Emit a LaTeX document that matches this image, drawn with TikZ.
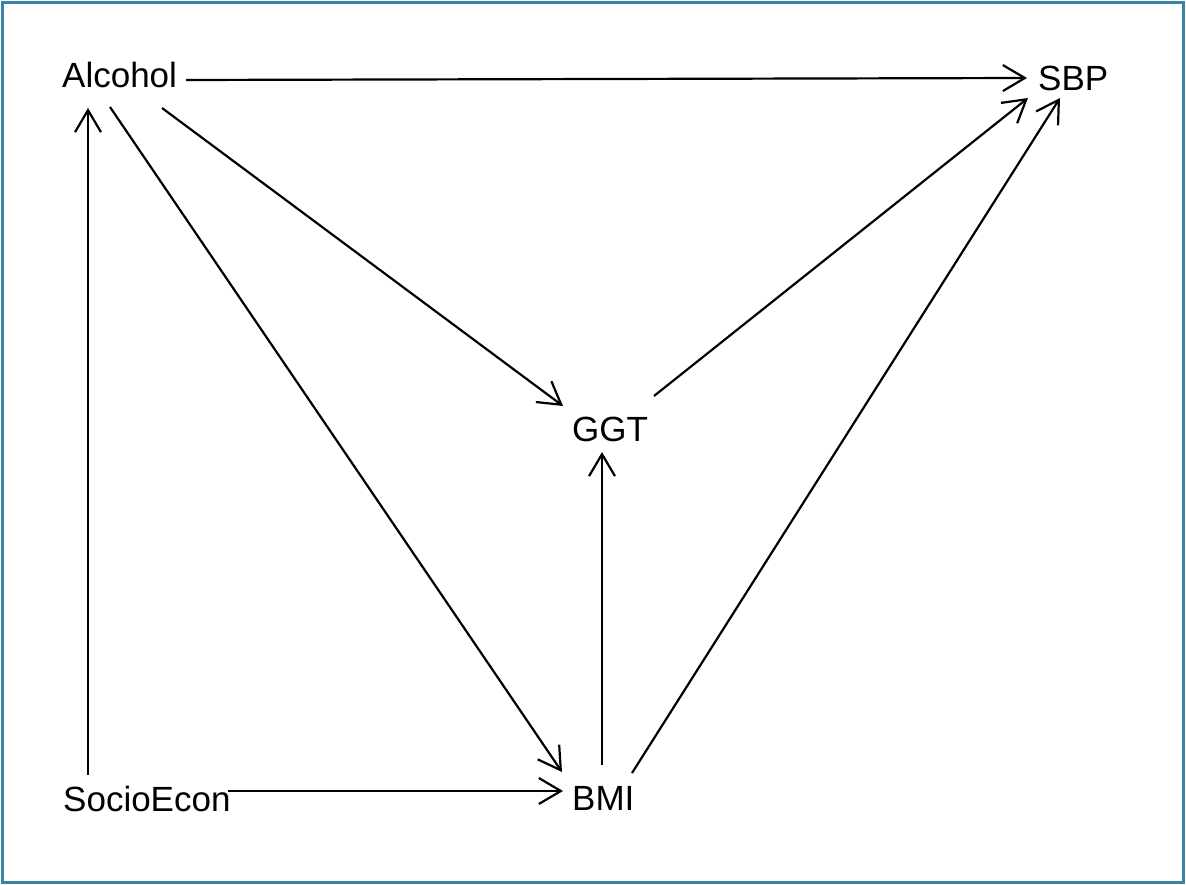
\documentclass[tikz,border=0pt]{standalone}
\usepackage{fontspec}
\setmainfont{Liberation Sans}
\usetikzlibrary{arrows.meta,calc}
\definecolor{framecol}{HTML}{3A85A6}
\tikzset{
  lbl/.style={anchor=base west, inner sep=0pt, font=\fontsize{35}{40}\selectfont},
  arr/.style={line width=2.2pt, -{Straight Barb[length=22pt,width=26pt,line width=2.2pt]}}
}
\begin{document}
\begin{tikzpicture}[x=1pt,y=-1pt]
\useasboundingbox (0,0) rectangle (1186,885);
\draw[framecol, line width=3pt] (2.5,2.5) rectangle (1183.5,882.5);
\node[lbl] (alc) at (62,88) {Alcohol};
\node[lbl] (sbp) at (1038,91) {SBP};
\node[lbl] (ggt) at (572,441) {GGT};
\node[lbl] (soc) at (63,811) {SocioEcon};
\node[lbl] (bmi) at (572,810) {BMI};
% edges
\draw[arr] ($(alc.base west)+(124,-8)$) -- ($(sbp.base west)+(-11,-13)$);
\draw[arr] ($(alc.base west)+(100,20)$) -- ($(ggt.base west)+(-9,-35)$);
\draw[arr] ($(alc.base west)+(48,19)$) -- ($(bmi.base west)+(-10,-38)$);
\draw[arr] ($(soc.base west)+(25,-36)$) -- ($(alc.base west)+(26,20)$);
\draw[arr] ($(soc.base west)+(165,-20)$) -- ($(bmi.base west)+(-9,-19)$);
\draw[arr] ($(bmi.base west)+(30,-45)$) -- ($(ggt.base west)+(30,11)$);
\draw[arr] ($(ggt.base west)+(82,-45)$) -- ($(sbp.base west)+(-10,7)$);
\draw[arr] ($(bmi.base west)+(60,-37)$) -- ($(sbp.base west)+(22,7)$);
\end{tikzpicture}
\end{document}
